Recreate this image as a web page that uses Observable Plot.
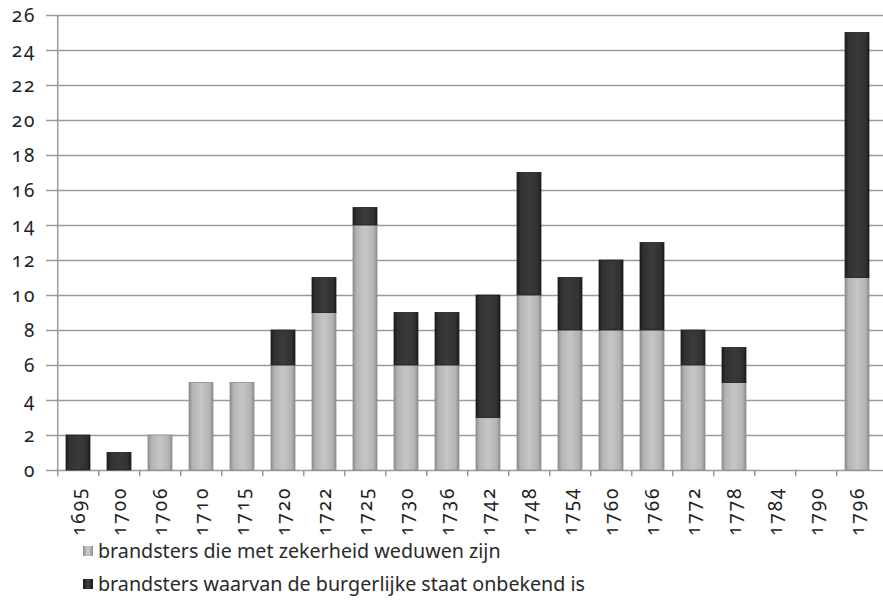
<!DOCTYPE html>
<html>
<head>
<meta charset="utf-8">
<script src="https://cdn.jsdelivr.net/npm/d3@7"></script>
<script src="https://cdn.jsdelivr.net/npm/@observablehq/plot@0.6"></script>
<style>
  body { margin: 0; background: #fff; font-family: "Noto Sans", sans-serif; }
  #chart svg { font-variant-numeric: oldstyle-nums; font-feature-settings: "onum"; }
  #chart svg text { font-size: 19px !important; font-family: "Noto Sans", sans-serif !important; fill: #222; letter-spacing: 2px; }
  .legend { margin-left: 83px; margin-top: -1px; font-size: 19.7px; color: #2a2a2a; }
  .legend div { display: flex; align-items: center; height: 33px; }
  .legend span.sw { display: inline-block; width: 10px; height: 10px; margin-right: 5px; }
</style>
</head>
<body>
<div id="chart"></div>
<div class="legend" id="legend"></div>
<script>
const years = ["1695","1700","1706","1710","1715","1720","1722","1725","1730","1736","1742","1748","1754","1760","1766","1772","1778","1784","1790","1796"];
const widows  = [0,0,2,5,5,6,9,14,6,6,3,10,8,8,8,6,5,0,0,11];
const unknown = [2,1,0,0,0,2,2,1,3,3,7,7,3,4,5,2,2,0,0,14];
const seriesNames = ["brandsters die met zekerheid weduwen zijn", "brandsters waarvan de burgerlijke staat onbekend is"];
const yTicks = [0,2,4,6,8,10,12,14,16,18,20,22,24,26];

const data = [];
years.forEach((y, i) => {
  data.push({year: y, series: seriesNames[0], value: widows[i]});
  data.push({year: y, series: seriesNames[1], value: unknown[i]});
});

const W = 883, ML = 52, MR = 0;
const step = (W - ML - MR) / years.length;

const chart = Plot.plot({
  width: W,
  height: 535,
  marginTop: 15,
  marginBottom: 65,
  marginLeft: ML,
  marginRight: MR,
  style: {fontFamily: "Noto Sans", fontSize: "19px", color: "#222", background: "#fff"},
  x: {domain: years, paddingInner: 0.42, paddingOuter: 0.21, label: null},
  y: {domain: [0, 26], label: null},
  color: {domain: seriesNames, range: ["url(#gLight)", "url(#gDark)"]},
  marks: [
    Plot.ruleY(yTicks, {stroke: "#9a9a9a", strokeWidth: 1.5, strokeOpacity: 1}),
    Plot.barY(data, Plot.stackY({x: "year", y: "value", fill: "series", order: seriesNames, stroke: d => d.series === seriesNames[0] ? "#8c8c8c" : "#1e1e1e", strokeWidth: 0.8})),
    Plot.ruleX(years, {x: d => d, y1: 0, y2: -0.36, dx: -step / 2, stroke: "#9a9a9a", strokeWidth: 1.5}),
    Plot.axisY({ticks: yTicks, tickSize: 6, tickPadding: 10, stroke: "#9a9a9a", strokeWidth: 1.5, fontSize: 19, fill: "#222"}),
    Plot.ruleX([0], {x: () => years[0], dx: -step / 2, y1: 0, y2: 26, stroke: "#9a9a9a", strokeWidth: 1.5}),
    Plot.axisX({tickSize: 0, tickRotate: -90, tickPadding: 16, fontSize: 19, fill: "#222", textAnchor: "end"})
  ]
});

// gradients for a rounded, glossy look
const svg = d3.select(chart);
const defs = svg.insert("defs", ":first-child");
function grad(id, stops) {
  const g = defs.append("linearGradient").attr("id", id).attr("x1", "0").attr("x2", "1").attr("y1", "0").attr("y2", "0");
  stops.forEach(([o, c]) => g.append("stop").attr("offset", o).attr("stop-color", c));
}
grad("gLight", [[0, "#8e8e8e"], [0.15, "#b4b4b4"], [0.5, "#c6c6c6"], [0.85, "#b4b4b4"], [1, "#8e8e8e"]]);
grad("gDark", [[0, "#1c1c1c"], [0.15, "#323232"], [0.5, "#3a3a3a"], [0.85, "#323232"], [1, "#1c1c1c"]]);

document.getElementById("chart").appendChild(chart);

const legend = document.getElementById("legend");
const swatchBg = ["linear-gradient(90deg,#8e8e8e,#cfcfcf,#8e8e8e)", "linear-gradient(90deg,#1c1c1c,#444,#1c1c1c)"];
seriesNames.forEach((name, i) => {
  const row = document.createElement("div");
  const sw = document.createElement("span");
  sw.className = "sw";
  sw.style.background = swatchBg[i];
  row.appendChild(sw);
  row.appendChild(document.createTextNode(name));
  legend.appendChild(row);
});
</script>
</body>
</html>
